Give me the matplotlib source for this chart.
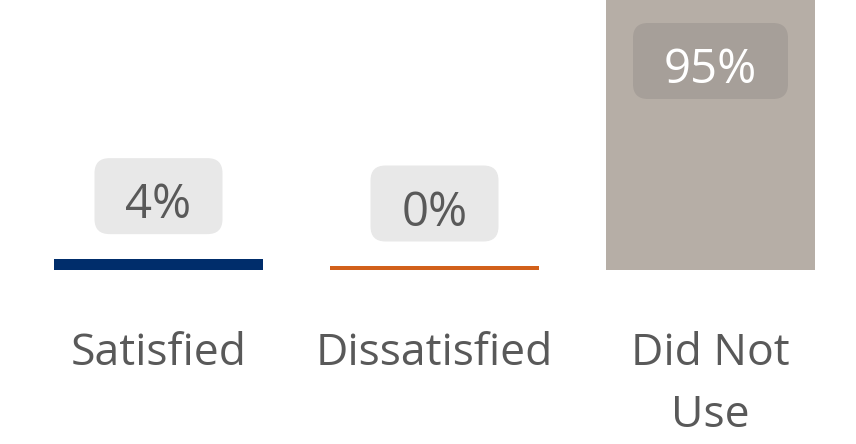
import matplotlib.pyplot as plt
import numpy as np
from matplotlib.patches import FancyBboxPatch

categories = ["Satisfied", "Dissatisfied", "Did Not\nUse"]
values = [4, 0, 95]
labels = ["4%", "0%", "95%"]
bar_colors = ["#002d6b", "#d2601a", "#b6aea6"]

plt.rcParams["font.family"] = ["Open Sans", "DejaVu Sans"]

fig = plt.figure(figsize=(8.56, 4.44), dpi=100)
# axes spans full width; baseline at pixel 270 from top
ax = fig.add_axes([0, (444 - 270) / 444, 1, 270 / 444])

# pixel -> data unit helpers
px_x = 1 / 276
px_y = 95 / 270

x = np.arange(len(categories))
# zero values still get a thin visible bar
heights = np.maximum(values, 4 * px_y)
ax.bar(x, heights, width=209 / 276, color=bar_colors)

ax.set_xlim(-158.5 / 276, (856 - 158.5) / 276)
ax.set_ylim(0, 95)
for s in ax.spines.values():
    s.set_visible(False)
ax.set_yticks([])
ax.set_xticks(x)
ax.set_xticklabels(categories, fontsize=32, color="#595959", linespacing=1.5)
ax.tick_params(axis="x", length=0, pad=44.5)

for xi, h, lab in zip(x, heights, labels):
    inside = h > 50
    bw = (155 if inside else 128) * px_x
    bh = 76 * px_y
    if inside:
        y0 = h - (23 + 76) * px_y
        fc, tc = "#a69f99", "white"
    else:
        y0 = h + 24.5 * px_y
        fc, tc = "#e8e8e8", "#595959"
    box = FancyBboxPatch((xi - bw / 2, y0), bw, bh,
                         boxstyle="round,pad=0,rounding_size=%f" % (15 * px_x),
                         mutation_aspect=px_y / px_x, fc=fc, ec="none",
                         clip_on=False)
    ax.add_patch(box)
    ax.text(xi, y0 + 16 * px_y, lab, ha="center", va="baseline",
            fontsize=34, color=tc)

fig.savefig("out.png", dpi=100)
